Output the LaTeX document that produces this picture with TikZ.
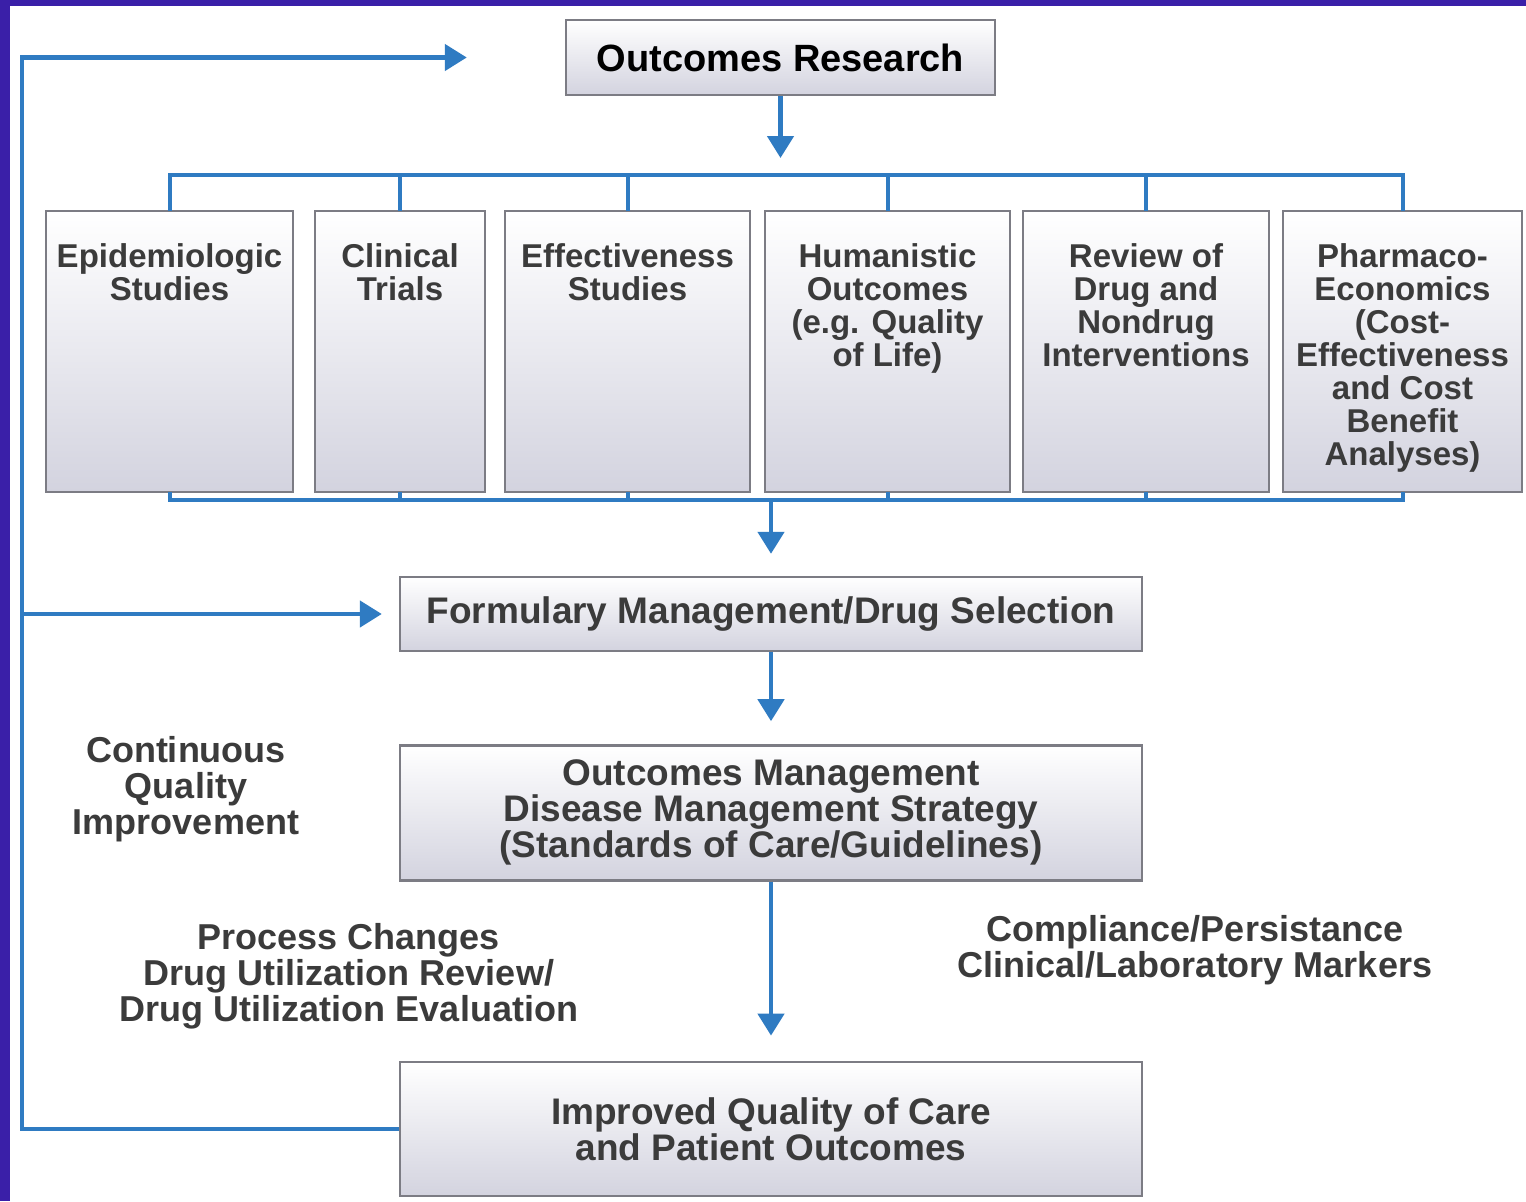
\documentclass[tikz,border=0pt]{standalone}
\usepackage{fontspec}
\setmainfont{Liberation Sans}
\usetikzlibrary{arrows.meta,positioning,calc}
\definecolor{frame}{HTML}{3A1FA8}
\definecolor{flowblue}{HTML}{2F7BC2}
\definecolor{boxedge}{HTML}{7C7C84}
\definecolor{boxlow}{HTML}{D3D3DF}
\definecolor{txt}{HTML}{3B3B3B}

\begin{document}
\begin{tikzpicture}[
  x=0.5pt, y=-0.5pt,
  >={Triangle[width=13pt,length=11pt]},
  flow/.style={->, draw=flowblue, line width=2.3pt},
  bus/.style={draw=flowblue, line width=2pt},
  box/.style={draw=boxedge, line width=1.2pt, top color=white, bottom color=boxlow,
              inner sep=2pt, align=center, text=txt,
              font=\fontsize{18.5}{18}\selectfont\bfseries},
  wide/.style={box, minimum width=371pt},
  rowbox/.style={draw=boxedge, line width=1.2pt, top color=white, bottom color=boxlow,
                 minimum height=140.5pt, inner sep=0pt, outer sep=0pt},
  rowtext/.style={anchor=north, yshift=-16pt, align=center, text=txt, inner sep=0pt,
                  font=\fontsize{16.5}{16.5}\selectfont\bfseries},
  side/.style={align=center, text=txt, font=\fontsize{18}{18}\selectfont\bfseries}
]
\useasboundingbox (0,0) rectangle (1526,1201);
\fill[frame] (0,0) rectangle (1526,1201);
\fill[white] (10,6) rectangle (1526,1201);

% top of the chart
\node[box, minimum width=214.5pt, minimum height=37.5pt, text=black,
      font=\fontsize{19}{19}\selectfont\bfseries] (outres) at (780.5,57.5) {Outcomes Research};

% the six study boxes
\node[rowbox, anchor=north west, minimum width=123.5pt,
      label={[rowtext]90:{Epidemiologic\\Studies}}] (epi) at (46,211) {};
\node[rowbox, right=11pt of epi, minimum width=85pt,
      label={[rowtext]90:{Clinical\\Trials}}] (clin) {};
\node[rowbox, right=10pt of clin, minimum width=122.5pt,
      label={[rowtext]90:{Effectiveness\\Studies}}] (eff) {};
\node[rowbox, right=7.5pt of eff, minimum width=122.5pt,
      label={[rowtext]90:{Humanistic\\Outcomes\\(e.g. Quality\\of Life)}}] (hum) {};
\node[rowbox, right=6.5pt of hum, minimum width=123pt,
      label={[rowtext]90:{Review of\\Drug and\\Nondrug\\Interventions}}] (rev) {};
\node[rowbox, right=7pt of rev, minimum width=119.5pt,
      label={[rowtext]90:{Pharmaco-\\Economics\\(Cost-\\Effectiveness\\and Cost\\Benefit\\Analyses)}}] (pharm) {};

\coordinate (bustop) at (0,175);
\coordinate (busbot) at (0,500);
\draw[flow, shorten >=8.5pt] (outres.south) -- (outres.south |- bustop);
\draw[bus] (epi.north) |- (pharm.north |- bustop) -- (pharm.north);
\draw[bus] (epi.south) |- (pharm.south |- busbot) -- (pharm.south);
\foreach \n in {clin,eff,hum,rev}{
  \draw[bus] (\n.north) -- (\n.north |- bustop);
  \draw[bus] (\n.south) -- (\n.south |- busbot);
}

% management chain
\node[wide, minimum height=37pt] (form) at (771,614) {Formulary Management/Drug Selection};
\node[wide, minimum height=67.5pt, below=46pt of form] (outman)
      {Outcomes Management\\Disease Management Strategy\\(Standards of Care/Guidelines)};
\node[wide, minimum height=67pt, below=89.5pt of outman] (impr)
      {Improved Quality of Care\\and Patient Outcomes};

\draw[flow, shorten >=11pt] (form.north |- busbot) -- (form.north);
\draw[flow, shorten >=11.5pt] (form) -- (outman);
\draw[flow, shorten >=12.5pt] (outman) -- (impr);

% feedback loop
\coordinate (loop) at (22,0);
\draw[flow, shorten >=49pt] (impr.west) -| (loop |- outres.west) -- (outres.west);
\draw[flow, shorten >=8.5pt] (loop |- form.west) -- (form.west);

\node[side] (cqi) at (186,789) {Continuous\\Quality\\Improvement};
\node[side] (proc) at (349,976) {Process Changes\\Drug Utilization Review/\\Drug Utilization Evaluation};
\node[side] (comp) at (1195,950) {Compliance/Persistance\\Clinical/Laboratory Markers};

\end{tikzpicture}
\end{document}
